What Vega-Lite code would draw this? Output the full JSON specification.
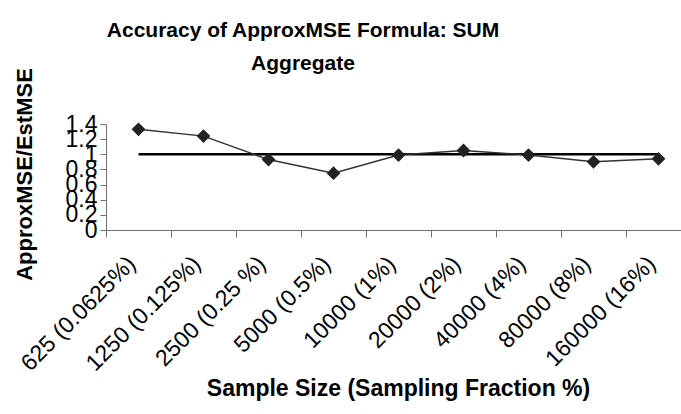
{
  "$schema": "https://vega.github.io/schema/vega-lite/v6.json",
  "autosize": "none",
  "width": 585,
  "height": 106,
  "padding": {"left": 106, "top": 124, "right": 0, "bottom": 184},
  "background": "white",
  "config": {
    "font": "Liberation Sans",
    "view": {"stroke": null}
  },
  "title": {
    "text": ["Accuracy of ApproxMSE Formula: SUM", "Aggregate"],
    "font": "Liberation Sans",
    "fontSize": 21,
    "fontWeight": "bold",
    "color": "black",
    "anchor": "start",
    "frame": "group",
    "align": "center",
    "dx": 197,
    "dy": 58,
    "lineHeight": 33,
    "offset": 52
  },
  "data": {
    "values": [
      {"size": "625 (0.0625%)", "ratio": 1.33, "ref": 1},
      {"size": "1250 (0.125%)", "ratio": 1.24, "ref": 1},
      {"size": "2500 (0.25 %)", "ratio": 0.93, "ref": 1},
      {"size": "5000 (0.5%)", "ratio": 0.75, "ref": 1},
      {"size": "10000 (1%)", "ratio": 0.99, "ref": 1},
      {"size": "20000 (2%)", "ratio": 1.05, "ref": 1},
      {"size": "40000 (4%)", "ratio": 0.99, "ref": 1},
      {"size": "80000 (8%)", "ratio": 0.9, "ref": 1},
      {"size": "160000 (16%)", "ratio": 0.94, "ref": 1}
    ]
  },
  "encoding": {
    "x": {
      "field": "size",
      "type": "nominal",
      "sort": null,
      "scale": {"paddingInner": 0, "paddingOuter": 0},
      "axis": {
        "title": "Sample Size (Sampling Fraction %)",
        "titleFont": "Liberation Sans",
        "titleFontSize": 23,
        "titleFontWeight": "bold",
        "titleColor": "black",
        "titleX": 292,
        "titleY": 165,
        "titleBaseline": "alphabetic",
        "labelAngle": -45,
        "labelAlign": "right",
        "labelBaseline": "middle",
        "labelFontSize": 23,
        "labelColor": "black",
        "labelPadding": 23,
        "labelOffset": -7,
        "bandPosition": 0,
        "tickBand": "extent",
        "ticks": true,
        "tickSize": 7,
        "tickColor": "#707070",
        "domainColor": "#707070",
        "grid": false
      }
    },
    "y": {
      "field": "ratio",
      "type": "quantitative",
      "scale": {"domain": [0, 1.4], "nice": false},
      "axis": {
        "title": "ApproxMSE/EstMSE",
        "titleFont": "Liberation Sans",
        "titleFontSize": 22,
        "titleFontWeight": "bold",
        "titleColor": "black",
        "titleX": -82,
        "titleY": 50,
        "titleAlign": "center",
        "titleBaseline": "middle",
        "values": [0, 0.2, 0.4, 0.6, 0.8, 1, 1.2, 1.4],
        "format": "~g",
        "labelFontSize": 23,
        "labelColor": "black",
        "labelPadding": 3,
        "labelOverlap": false,
        "labelFlush": false,
        "tickSize": 6,
        "tickColor": "#707070",
        "domainColor": "#707070",
        "grid": false
      }
    }
  },
  "layer": [
    {
      "mark": {"type": "line", "color": "black", "strokeWidth": 2.5},
      "encoding": {
        "y": {"field": "ref", "type": "quantitative"}
      }
    },
    {
      "mark": {"type": "line", "color": "#333333", "strokeWidth": 1.5, "point": {"shape": "diamond", "size": 190, "color": "#222222", "filled": true}},
      "encoding": {}
    }
  ]
}
